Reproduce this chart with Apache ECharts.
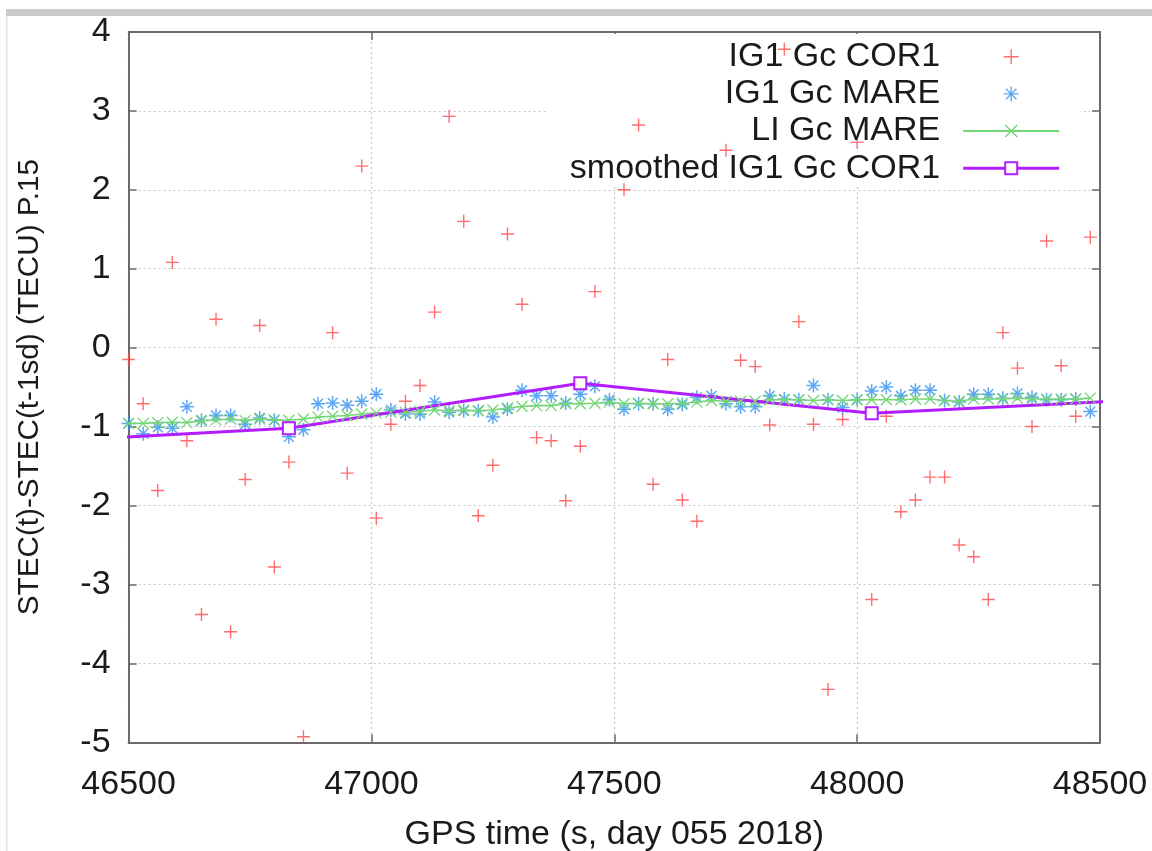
<!DOCTYPE html>
<html>
<head>
<meta charset="utf-8">
<script src="https://cdn.jsdelivr.net/npm/echarts@6/dist/echarts.min.js"></script>
<style>
html,body{margin:0;padding:0;background:#fff;}
#chart{width:1152px;height:851px;}
</style>
</head>
<body>
<div id="chart"></div>
<script>
// GPS time (s) of every sample, 30 s apart
const times = [46500,46530,46560,46590,46620,46650,46680,46710,46740,46770,
  46800,46830,46860,46890,46920,46950,46980,47010,47040,47070,
  47100,47130,47160,47190,47220,47250,47280,47310,47340,47370,
  47400,47430,47460,47490,47520,47550,47580,47610,47640,47670,
  47700,47730,47760,47790,47820,47850,47880,47910,47940,47970,
  48000,48030,48060,48090,48120,48150,48180,48210,48240,48270,
  48300,48330,48360,48390,48420,48450,48480];

const ig1GcCor1 = [-0.15,-0.71,-1.81,1.08,-1.18,-3.38,0.36,-3.60,-1.67,0.28,
  -2.78,-1.45,-4.93,null,0.19,-1.59,2.30,-2.16,-0.97,-0.68,
  -0.48,0.45,2.93,1.60,-2.13,-1.49,1.44,0.55,-1.14,-1.18,
  -1.94,-1.25,0.71,null,2.00,2.82,-1.73,-0.15,-1.93,-2.20,
  null,2.50,-0.16,-0.24,-0.98,3.78,0.33,-0.97,-4.33,-0.91,
  2.60,-3.19,-0.87,-2.08,-1.93,-1.64,-1.64,-2.50,-2.65,-3.19,
  0.19,-0.26,-1.00,1.35,-0.23,-0.87,1.40];

const ig1GcMare = [-0.96,-1.09,-1.01,-1.02,-0.75,-0.92,-0.86,-0.86,-0.97,-0.89,
  -0.92,-1.13,-1.04,-0.71,-0.70,-0.73,-0.68,-0.59,-0.79,-0.84,
  -0.84,-0.69,-0.82,-0.80,-0.80,-0.88,-0.78,-0.54,-0.61,-0.61,
  -0.70,-0.59,-0.49,-0.66,-0.78,-0.71,-0.71,-0.78,-0.72,-0.63,
  -0.61,-0.71,-0.75,-0.75,-0.61,-0.65,-0.66,-0.48,-0.66,-0.76,
  -0.66,-0.55,-0.50,-0.61,-0.54,-0.54,-0.67,-0.69,-0.59,-0.59,
  -0.64,-0.58,-0.63,-0.66,-0.66,-0.65,-0.81];

const liGcMare = [-0.96,-0.96,-0.95,-0.945,-0.95,-0.93,-0.915,-0.905,-0.925,-0.905,
  -0.915,-0.92,-0.905,-0.88,-0.87,-0.86,-0.84,-0.83,-0.82,-0.82,
  -0.805,-0.79,-0.80,-0.79,-0.80,-0.79,-0.765,-0.745,-0.735,-0.735,
  -0.71,-0.71,-0.705,-0.69,-0.71,-0.705,-0.71,-0.71,-0.705,-0.69,
  -0.67,-0.68,-0.68,-0.68,-0.66,-0.66,-0.66,-0.67,-0.66,-0.67,
  -0.66,-0.66,-0.66,-0.66,-0.65,-0.65,-0.67,-0.68,-0.65,-0.65,
  -0.65,-0.64,-0.65,-0.65,-0.65,-0.65,-0.64];

// smoothed series: knots (outer ones lie beyond the plotted range and are clipped)
const smoothTimes = [46230,46830,47430,48030,48630];
const smoothValues = [-1.22,-1.02,-0.45,-0.83,-0.65];

const xTicks = ['46500','47000','47500','48000','48500'];
const yTicks = ['-5','-4','-3','-2','-1','0','1','2','3','4'];

const names = ['IG1 Gc COR1','IG1 Gc MARE','LI Gc MARE','smoothed IG1 Gc COR1'];

const crossPath = 'path://M5,0L5,10M0,5L10,5';
const starPath = 'path://M5,0L5,10M0,5L10,5M1.5,1.5L8.5,8.5M8.5,1.5L1.5,8.5';
const xPath = 'path://M0,0L10,10M10,0L0,10';

const RED = '#ff4a4a', BLUE = '#3592f2', GREEN = '#72d672', PURPLE = '#b21cff';

function pairs(xs, ys) {
  const out = [];
  xs.forEach((t, i) => { if (ys[i] !== null) out.push([t, ys[i]]); });
  return out;
}

const FONT = 'Liberation Sans';
const FS = 34;
const axisCol = '#6a6a6a';

const chart = echarts.init(document.getElementById('chart'), null, {renderer: 'canvas'});
const gridL = 128.6, gridR = 1152 - 1100, gridT = 31.9, gridB = 851 - 742.3;

chart.setOption({
  animation: false,
  backgroundColor: '#fff',
  textStyle: {fontFamily: FONT},
  grid: {left: gridL, right: gridR, top: gridT, bottom: gridB, containLabel: false, outerBoundsMode: 'none'},
  graphic: [
    {type: 'rect', z: 1, silent: true, shape: {x: 6, y: 9, width: 1146, height: 7}, style: {fill: '#c9c9c9'}},
    {type: 'rect', z: 1, silent: true, shape: {x: 6, y: 16, width: 1.5, height: 835}, style: {fill: '#e3e3e3'}},
    // opaque key box (covers grid lines, lies under the data)
    {type: 'rect', z: 1, silent: true, shape: {x: 547, y: 34, width: 533, height: 153}, style: {fill: '#fff'}}
  ],
  legend: {
    orient: 'vertical',
    align: 'right',
    right: 1152 - 1060.7,
    top: 39.7,
    padding: 0,
    itemGap: 3.2,
    itemWidth: 96,
    itemHeight: 15,
    symbolKeepAspect: true,
    selectedMode: false,
    textStyle: {fontFamily: FONT, fontSize: FS, lineHeight: 34, color: '#1a1a1a', padding: [0, 18, 0, 0]},
    data: [
      {name: names[0], icon: crossPath, itemStyle: {color: 'rgba(0,0,0,0)', borderColor: RED, borderWidth: 1.4}},
      {name: names[1], icon: starPath, itemStyle: {color: 'rgba(0,0,0,0)', borderColor: BLUE, borderWidth: 1.4}},
      {name: names[2], itemStyle: {color: 'rgba(0,0,0,0)', borderColor: GREEN, borderWidth: 1.4}, lineStyle: {color: GREEN, width: 2}},
      {name: names[3], itemStyle: {color: PURPLE}, lineStyle: {color: PURPLE, width: 3}}
    ]
  },
  xAxis: [{
    type: 'value', position: 'bottom', min: 46500, max: 48500, interval: 500,
    name: 'GPS time (s, day 055 2018)', nameLocation: 'middle', nameGap: 75,
    nameTextStyle: {fontFamily: FONT, fontSize: FS, lineHeight: 34, color: '#1a1a1a'},
    axisLine: {show: true, onZero: false, lineStyle: {color: axisCol, width: 2}},
    axisTick: {show: true, inside: true, length: 8, lineStyle: {color: axisCol, width: 1.5}},
    axisLabel: {margin: 25, fontFamily: FONT, fontSize: FS, lineHeight: 34, color: '#1a1a1a',
      formatter: v => xTicks[Math.round((v - 46500) / 500)]},
    splitLine: {show: true, lineStyle: {color: '#c4c4c4', width: 1.2, type: [2, 3]}}
  }, {
    type: 'value', position: 'top', min: 46500, max: 48500, interval: 500,
    axisLine: {show: true, onZero: false, lineStyle: {color: axisCol, width: 2}},
    axisTick: {show: true, inside: true, length: 8, lineStyle: {color: axisCol, width: 1.5}},
    axisLabel: {show: false}, splitLine: {show: false}
  }],
  yAxis: [{
    type: 'value', position: 'left', min: -5, max: 4, interval: 1,
    name: 'STEC(t)-STEC(t-1sd) (TECU) P.15', nameLocation: 'middle', nameGap: 84, nameRotate: 90,
    nameTextStyle: {fontFamily: FONT, fontSize: 29.7, lineHeight: 30, color: '#1a1a1a'},
    axisLine: {show: true, onZero: false, lineStyle: {color: axisCol, width: 2}},
    axisTick: {show: true, inside: true, length: 8, lineStyle: {color: axisCol, width: 1.5}},
    axisLabel: {margin: 18, fontFamily: FONT, fontSize: FS, color: '#1a1a1a',
      formatter: v => yTicks[Math.round(v + 5)]},
    splitLine: {show: true, lineStyle: {color: '#c4c4c4', width: 1.2, type: [2, 3]}}
  }, {
    type: 'value', position: 'right', min: -5, max: 4, interval: 1,
    axisLine: {show: true, onZero: false, lineStyle: {color: axisCol, width: 2}},
    axisTick: {show: true, inside: true, length: 8, lineStyle: {color: axisCol, width: 1.5}},
    axisLabel: {show: false}, splitLine: {show: false}
  }],
  series: [
    {
      name: names[0], type: 'scatter', data: pairs(times, ig1GcCor1),
      symbol: crossPath, symbolSize: 13, silent: true,
      itemStyle: {color: 'rgba(0,0,0,0)', borderColor: RED, borderWidth: 1.4}
    },
    {
      name: names[1], type: 'scatter', data: pairs(times, ig1GcMare),
      symbol: starPath, symbolSize: 14, silent: true,
      itemStyle: {color: 'rgba(0,0,0,0)', borderColor: BLUE, borderWidth: 1.5}
    },
    {
      name: names[2], type: 'line', data: pairs(times, liGcMare),
      symbol: xPath, symbolSize: 11, showSymbol: true, showAllSymbol: true, silent: true,
      lineStyle: {color: GREEN, width: 1.6},
      itemStyle: {color: 'rgba(0,0,0,0)', borderColor: GREEN, borderWidth: 1.3}
    },
    {
      name: names[3], type: 'line', data: pairs(smoothTimes, smoothValues),
      symbol: 'emptyRect', symbolSize: 12, showSymbol: true, showAllSymbol: true, silent: true, clip: true,
      lineStyle: {color: PURPLE, width: 3},
      itemStyle: {color: PURPLE, borderColor: PURPLE, borderWidth: 2}
    }
  ]
});
</script>
</body>
</html>
